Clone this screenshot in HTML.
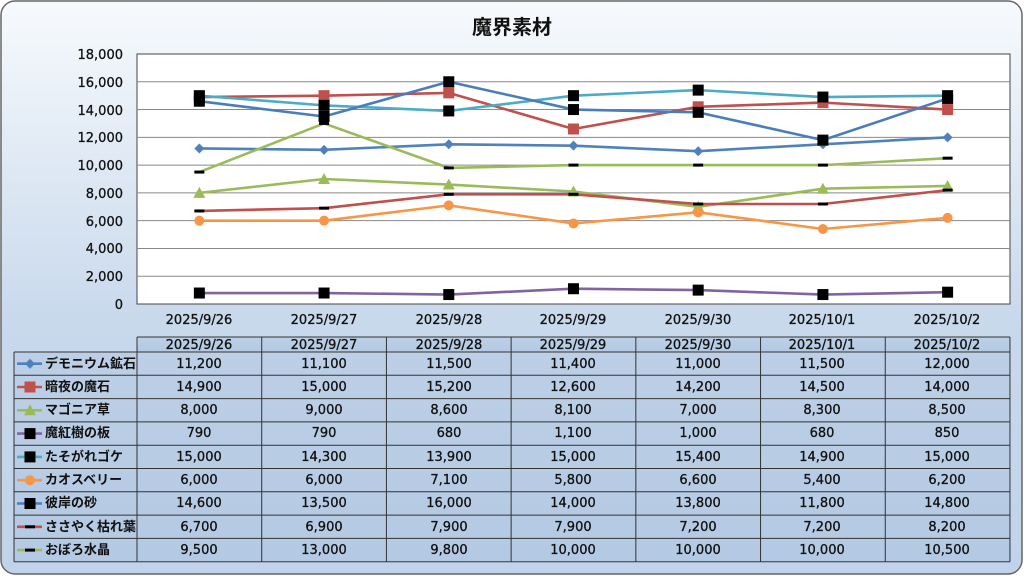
<!DOCTYPE html>
<html><head><meta charset="utf-8"><style>
html,body{margin:0;padding:0;width:1024px;height:576px;overflow:hidden;background:#fff}
svg{display:block}
text{font-family:"DejaVu Sans","Noto Sans CJK JP",sans-serif;fill:#111}
.j{font-family:"Noto Sans CJK JP",sans-serif}
</style></head><body>
<svg id="s" width="1024" height="576" viewBox="0 0 1024 576" xmlns="http://www.w3.org/2000/svg">
<defs>
<linearGradient id="bg" x1="0" y1="0" x2="0" y2="1">
<stop offset="0" stop-color="#f7fafd"/><stop offset="0.55" stop-color="#c9d9ec"/><stop offset="1" stop-color="#c0d3ea"/>
</linearGradient>
<linearGradient id="tb" x1="0" y1="0" x2="0" y2="1">
<stop offset="0" stop-color="#bccfe6"/><stop offset="1" stop-color="#b4c9e3"/>
</linearGradient>
</defs>
<rect x="1" y="1" width="1021" height="573" rx="14" fill="url(#bg)" stroke="#666" stroke-width="1.5"/>
<text class="j" x="512" y="34" font-size="20" font-weight="bold" text-anchor="middle">魔界素材</text>
<rect x="137" y="54" width="873" height="250" fill="#fff" stroke="#444" stroke-width="1"/>
<g id="grid" stroke="#888" stroke-width="1"></g>
<g font-size="13" text-anchor="end" stroke="#111" stroke-width="0.3">
<text x="123" y="59">18,000</text><text x="123" y="87">16,000</text><text x="123" y="115">14,000</text>
<text x="123" y="142">12,000</text><text x="123" y="170">10,000</text><text x="123" y="198">8,000</text>
<text x="123" y="226">6,000</text><text x="123" y="253">4,000</text><text x="123" y="281">2,000</text><text x="123" y="309">0</text>
</g>
<g font-size="13" text-anchor="middle" stroke="#111" stroke-width="0.3">
<text x="199" y="324">2025/9/26</text><text x="324" y="324">2025/9/27</text><text x="449" y="324">2025/9/28</text>
<text x="573" y="324">2025/9/29</text><text x="698" y="324">2025/9/30</text><text x="822" y="324">2025/10/1</text><text x="947" y="324">2025/10/2</text>
</g>
<g id="series"></g>
<rect x="137" y="337" width="873" height="15" fill="url(#tb)"/>
<rect x="14" y="352" width="996" height="209" fill="url(#tb)"/>
<g id="tlines" stroke="#333" stroke-width="1" fill="none"></g>
<g font-size="13" text-anchor="middle" stroke="#111" stroke-width="0.3">
<text x="199" y="349">2025/9/26</text><text x="324" y="349">2025/9/27</text><text x="449" y="349">2025/9/28</text>
<text x="573" y="349">2025/9/29</text><text x="698" y="349">2025/9/30</text><text x="822" y="349">2025/10/1</text><text x="947" y="349">2025/10/2</text>
</g>
<g font-size="13" text-anchor="middle" stroke="#111" stroke-width="0.3">
<text x="199" y="368">11,200</text><text x="324" y="368">11,100</text><text x="449" y="368">11,500</text><text x="573" y="368">11,400</text><text x="698" y="368">11,000</text><text x="822" y="368">11,500</text><text x="947" y="368">12,000</text>
<text x="199" y="391">14,900</text><text x="324" y="391">15,000</text><text x="449" y="391">15,200</text><text x="573" y="391">12,600</text><text x="698" y="391">14,200</text><text x="822" y="391">14,500</text><text x="947" y="391">14,000</text>
<text x="199" y="414">8,000</text><text x="324" y="414">9,000</text><text x="449" y="414">8,600</text><text x="573" y="414">8,100</text><text x="698" y="414">7,000</text><text x="822" y="414">8,300</text><text x="947" y="414">8,500</text>
<text x="199" y="437">790</text><text x="324" y="437">790</text><text x="449" y="437">680</text><text x="573" y="437">1,100</text><text x="698" y="437">1,000</text><text x="822" y="437">680</text><text x="947" y="437">850</text>
<text x="199" y="461">15,000</text><text x="324" y="461">14,300</text><text x="449" y="461">13,900</text><text x="573" y="461">15,000</text><text x="698" y="461">15,400</text><text x="822" y="461">14,900</text><text x="947" y="461">15,000</text>
<text x="199" y="484">6,000</text><text x="324" y="484">6,000</text><text x="449" y="484">7,100</text><text x="573" y="484">5,800</text><text x="698" y="484">6,600</text><text x="822" y="484">5,400</text><text x="947" y="484">6,200</text>
<text x="199" y="507">14,600</text><text x="324" y="507">13,500</text><text x="449" y="507">16,000</text><text x="573" y="507">14,000</text><text x="698" y="507">13,800</text><text x="822" y="507">11,800</text><text x="947" y="507">14,800</text>
<text x="199" y="531">6,700</text><text x="324" y="531">6,900</text><text x="449" y="531">7,900</text><text x="573" y="531">7,900</text><text x="698" y="531">7,200</text><text x="822" y="531">7,200</text><text x="947" y="531">8,200</text>
<text x="199" y="554">9,500</text><text x="324" y="554">13,000</text><text x="449" y="554">9,800</text><text x="573" y="554">10,000</text><text x="698" y="554">10,000</text><text x="822" y="554">10,000</text><text x="947" y="554">10,500</text>
</g>
<g class="j" font-size="13" font-weight="bold">
<text class="j" x="45" y="368">デモニウム鉱石</text><text class="j" x="45" y="391">暗夜の魔石</text><text class="j" x="45" y="414">マゴニア草</text>
<text class="j" x="45" y="437">魔紅樹の板</text><text class="j" x="45" y="461">たそがれゴケ</text><text class="j" x="45" y="484">カオスベリー</text>
<text class="j" x="45" y="507">彼岸の砂</text><text class="j" x="45" y="531">ささやく枯れ葉</text><text class="j" x="45" y="554">おぼろ水晶</text>
</g>
<g id="leg"></g>
</svg>
<script>
var NS="http://www.w3.org/2000/svg";
function el(p,t,a){var e=document.createElementNS(NS,t);for(var k in a)e.setAttribute(k,a[k]);document.getElementById(p).appendChild(e);return e;}
for(var i=1;i<9;i++){var y=54+i*250/9;el("grid","line",{x1:137,x2:1010,y1:y,y2:y});}
var rows=[352,375.3,398.6,421.9,445.2,468.5,491.8,515.1,538.4,561.7];
rows.forEach(function(y){el("tlines","line",{x1:14,x2:1010,y1:y,y2:y});});
el("tlines","line",{x1:137,x2:1010,y1:337,y2:337});
el("tlines","line",{x1:14,x2:14,y1:352,y2:561.7});
for(var c=0;c<8;c++){var x=137+c*124.71;el("tlines","line",{x1:x,x2:x,y1:337,y2:561.7});}
var S=[
["#4f81bd","d",[11200,11100,11500,11400,11000,11500,12000]],
["#c0504d","rs",[14900,15000,15200,12600,14200,14500,14000]],
["#9bbb59","t",[8000,9000,8600,8100,7000,8300,8500]],
["#8064a2","b",[790,790,680,1100,1000,680,850]],
["#4bacc6","b",[15000,14300,13900,15000,15400,14900,15000]],
["#f79646","c",[6000,6000,7100,5800,6600,5400,6200]],
["#4a7ebb","b",[14600,13500,16000,14000,13800,11800,14800]],
["#c0504d","m",[6700,6900,7900,7900,7200,7200,8200]],
["#9bbb59","m",[9500,13000,9800,10000,10000,10000,10500]]];
function mk(g,type,col,x,y){
 if(type=="d")el(g,"path",{d:"M"+x+","+(y-5)+"L"+(x+5)+","+y+"L"+x+","+(y+5)+"L"+(x-5)+","+y+"Z",fill:col});
 else if(type=="rs")el(g,"rect",{x:x-5.5,y:y-5.5,width:11,height:11,fill:col});
 else if(type=="b")el(g,"rect",{x:x-5.5,y:y-5.5,width:11,height:11,fill:"#000"});
 else if(type=="t")el(g,"path",{d:"M"+x+","+(y-6)+"L"+(x+6)+","+(y+5)+"L"+(x-6)+","+(y+5)+"Z",fill:col});
 else if(type=="c")el(g,"circle",{cx:x,cy:y,r:5,fill:col});
 else if(type=="m")el(g,"rect",{x:x-5,y:y-1.5,width:10,height:3,fill:"#000"});
}
S.forEach(function(s,k){
 var pts=s[2].map(function(v,i){return [199.35+124.71*i,304-v*250/18000];});
 el("series","polyline",{points:pts.map(function(p){return p.join(",")}).join(" "),fill:"none",stroke:s[0],"stroke-width":2.6,"stroke-linejoin":"round"});
 pts.forEach(function(p){mk("series",s[1],s[0],p[0],p[1]);});
 var ly=363.7+k*23.3;
 el("leg","line",{x1:17,x2:42,y1:ly,y2:ly,stroke:s[0],"stroke-width":2.6});
 mk("leg",s[1],s[0],30,ly);
});
</script>
</body></html>
